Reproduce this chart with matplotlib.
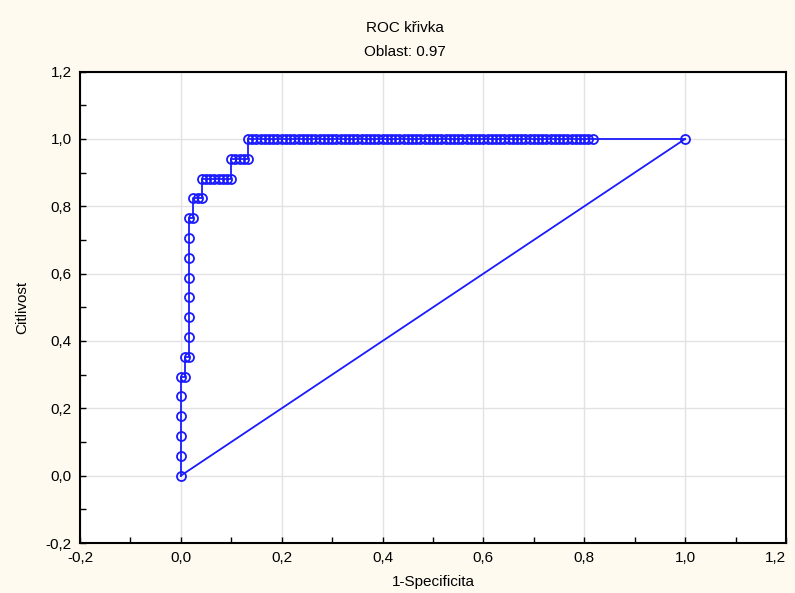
import numpy as np
import matplotlib.pyplot as plt
from matplotlib.ticker import MultipleLocator

# ROC curve: 17 positives, 120 negatives (counts)
n_neg = 120
n_pos = 17

fp_counts = ([0, 0, 0, 0, 0, 0, 1, 1, 2] + [2] * 7 + [3, 3, 4, 5, 5]
             + list(range(6, 13)) + [12] + list(range(13, 17)) + [16]
             + list(range(17, 99)) + [n_neg])
tp_counts = ([0, 1, 2, 3, 4, 5, 5, 6, 6] + list(range(7, 14)) + [13, 14, 14, 14, 15]
             + [15] * 7 + [16] + [16] * 4 + [17]
             + [17] * 82 + [17])

x = np.array(fp_counts) / n_neg
y = np.array(tp_counts) / n_pos

ticks = [-0.2, 0.0, 0.2, 0.4, 0.6, 0.8, 1.0, 1.2]
tick_labels = ['-0,2', '0,0', '0,2', '0,4', '0,6', '0,8', '1,0', '1,2']

title1 = 'ROC křivka'
title2 = 'Oblast: 0.97'

plt.rcParams['font.family'] = ['Liberation Sans', 'DejaVu Sans']

fig = plt.figure(figsize=(7.95, 5.93), dpi=100, facecolor='#fefaf0')
ax = fig.add_axes([0.1006, 0.0843, 0.8881, 0.795])
ax.set_facecolor('white')

blue = '#1a1aff'
ax.plot(x, y, color=blue, lw=1.3, marker='o', ms=6.5, mfc='none', mec=blue, mew=1.3, zorder=3)
# closing diagonal back to the origin
ax.plot([1, 0], [1, 0], color=blue, lw=1.3, zorder=3)

ax.set_xlim(-0.2, 1.2)
ax.set_ylim(-0.2, 1.2)
ax.set_xticks(ticks, tick_labels)
ax.set_yticks(ticks, tick_labels)
ax.xaxis.set_minor_locator(MultipleLocator(0.1))
ax.yaxis.set_minor_locator(MultipleLocator(0.1))
ax.tick_params(which='both', direction='in', length=4, width=1, labelsize=11, pad=6,
               top=False, right=False)
ax.grid(True, which='major', color='#e2e2e2', lw=1)
ax.set_axisbelow(True)
for s in ax.spines.values():
    s.set_linewidth(1.5)

# last x label sits at the figure edge, keep it inside
ax.get_xticklabels()[-1].set_horizontalalignment('right')

ax.set_ylabel('Citlivost', fontsize=11, labelpad=12)
ax.set_xlabel('1-Specificita', fontsize=11, labelpad=7)

fig.text(405 / 795, 1 - 28 / 593, title1, ha='center', va='center', fontsize=11)
fig.text(405 / 795, 1 - 52 / 593, title2, ha='center', va='center', fontsize=11)

fig.savefig('out.png', dpi=100, facecolor=fig.get_facecolor())
